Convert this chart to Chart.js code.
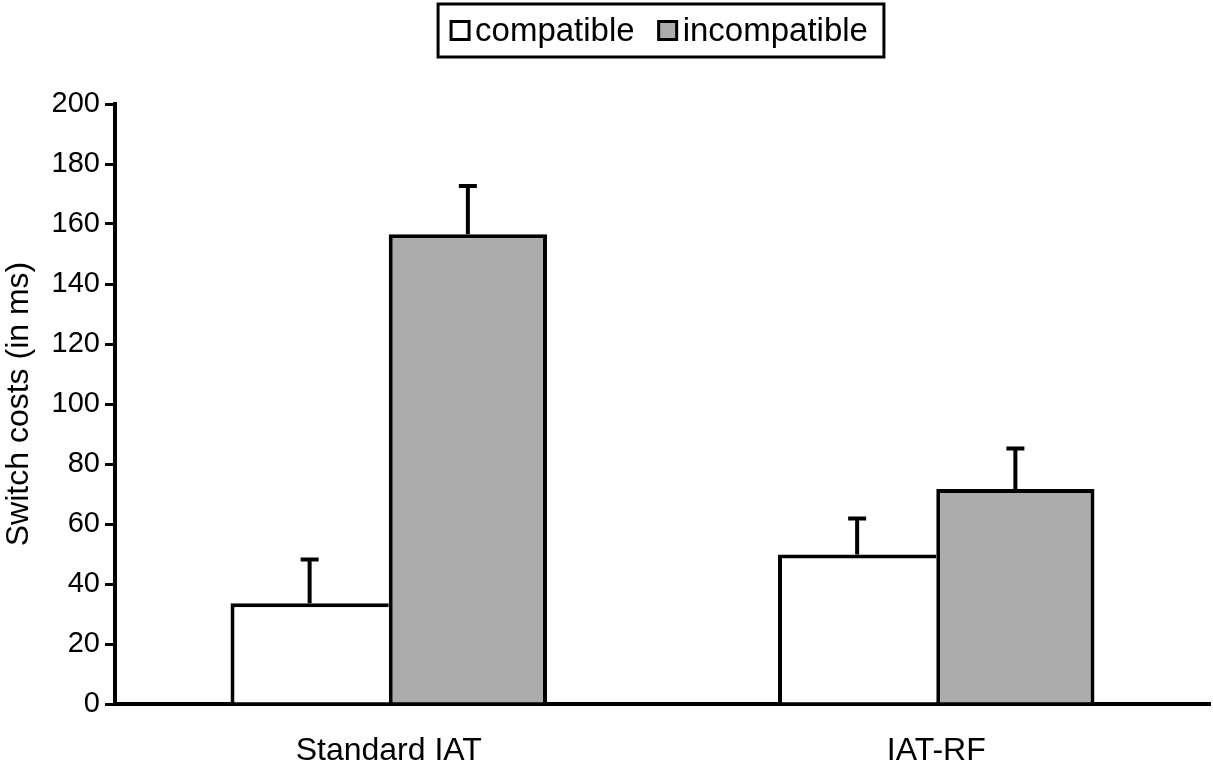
<!DOCTYPE html>
<html>
<head>
<meta charset="utf-8">
<script src="https://cdn.jsdelivr.net/npm/chart.js@4/dist/chart.umd.min.js"></script>
<style>
  html, body { margin: 0; padding: 0; background: #fff; }
  #wrap { width: 1213px; height: 770px; }
</style>
</head>
<body>
<div id="wrap"><canvas id="switchChart"></canvas></div>
<script>
// Datos
const categories = ['Standard IAT', 'IAT-RF'];
const compatible = [33.6, 49.8];
const incompatible = [156.6, 71.7];
// Error estándar (solo hacia arriba)
const compatibleErr = [14.6, 12.0];
const incompatibleErr = [16.1, 13.5];
const yTicks = [0, 20, 40, 60, 80, 100, 120, 140, 160, 180, 200];

const FONT = '"Liberation Sans", Arial, sans-serif';

// Barras de error: línea vertical desde el tope de la barra y un remate horizontal
const errorBars = {
    id: 'errorBars',
    afterDatasetsDraw(chart) {
        const ctx = chart.ctx;
        const y = chart.scales.y;
        chart.data.datasets.forEach((ds, i) => {
            const meta = chart.getDatasetMeta(i);
            meta.data.forEach((bar, j) => {
                const top = y.getPixelForValue(ds.data[j]);
                const cap = y.getPixelForValue(ds.data[j] + ds.errors[j]);
                ctx.save();
                ctx.strokeStyle = '#000';
                ctx.lineWidth = 4;
                ctx.beginPath();
                ctx.moveTo(bar.x, top);
                ctx.lineTo(bar.x, cap);
                ctx.moveTo(bar.x - 9, cap);
                ctx.lineTo(bar.x + 9, cap);
                ctx.stroke();
                ctx.restore();
            });
        });
    }
};

// Leyenda dentro de un recuadro, centrada arriba
const boxedLegend = {
    id: 'boxedLegend',
    afterDraw(chart) {
        const ctx = chart.ctx;
        ctx.save();
        ctx.font = '33px ' + FONT;
        ctx.textBaseline = 'middle';
        const sw = 18, gap = 6, between = 24, padX = 13;
        const items = chart.data.datasets.map(ds => ({
            label: ds.label, fill: ds.backgroundColor, w: ctx.measureText(ds.label).width
        }));
        let total = padX * 2 + 3;
        items.forEach((it, k) => { total += sw + gap + it.w + (k < items.length - 1 ? between : 0); });
        const cx = 661;
        const left = cx - total / 2, top = 4, h = 53, mid = top + h / 2;
        ctx.lineWidth = 3;
        ctx.strokeStyle = '#000';
        ctx.strokeRect(left, top, total, h);
        let x = left + padX;
        items.forEach(it => {
            ctx.fillStyle = it.fill;
            ctx.fillRect(x, mid - sw / 2, sw, sw);
            ctx.strokeRect(x, mid - sw / 2, sw, sw);
            x += sw + gap;
            ctx.fillStyle = '#000';
            ctx.fillText(it.label, x, mid + 1);
            x += it.w + between;
        });
        ctx.restore();
    }
};

const ctx = document.getElementById('switchChart').getContext('2d');

new Chart(ctx, {
    type: 'bar',
    data: {
        labels: categories,
        datasets: [
            {
                label: 'compatible',
                data: compatible,
                errors: compatibleErr,
                backgroundColor: '#ffffff',
                borderColor: '#000000',
                borderWidth: { top: 4, left: 4, right: 0, bottom: 0 },
                borderSkipped: 'start'
            },
            {
                label: 'incompatible',
                data: incompatible,
                errors: incompatibleErr,
                backgroundColor: '#ababab',
                borderColor: '#000000',
                borderWidth: { top: 4, left: 4, right: 4, bottom: 0 },
                borderSkipped: 'start'
            }
        ]
    },
    options: {
        responsive: true,
        maintainAspectRatio: false,
        animation: false,
        layout: { padding: { top: 104, right: 3, bottom: 0, left: 0 } },
        datasets: {
            bar: { categoryPercentage: 0.578, barPercentage: 1.0 }
        },
        scales: {
            x: {
                grid: { display: false, drawTicks: false },
                border: { display: true, color: '#000', width: 4 },
                ticks: {
                    color: '#000',
                    padding: 28,
                    font: { family: FONT, size: 32 }
                },
                afterFit(scale) { scale.height = 66; }
            },
            y: {
                min: 0,
                max: 200,
                afterBuildTicks(scale) { scale.ticks = yTicks.map(v => ({ value: v })); },
                grid: {
                    drawOnChartArea: false,
                    drawTicks: true,
                    tickLength: 10,
                    color: '#000',
                    lineWidth: 3
                },
                border: { display: true, color: '#000', width: 4 },
                ticks: {
                    color: '#000',
                    padding: 5,
                    font: { family: FONT, size: 29 }
                },
                title: {
                    display: true,
                    text: 'Switch costs (in ms)',
                    color: '#000',
                    padding: { top: 0, bottom: 0 },
                    font: { family: FONT, size: 32 }
                },
                afterFit(scale) { scale.width = 115; }
            }
        },
        plugins: {
            legend: { display: false },
            tooltip: { enabled: false }
        }
    },
    plugins: [errorBars, boxedLegend]
});
</script>
</body>
</html>
